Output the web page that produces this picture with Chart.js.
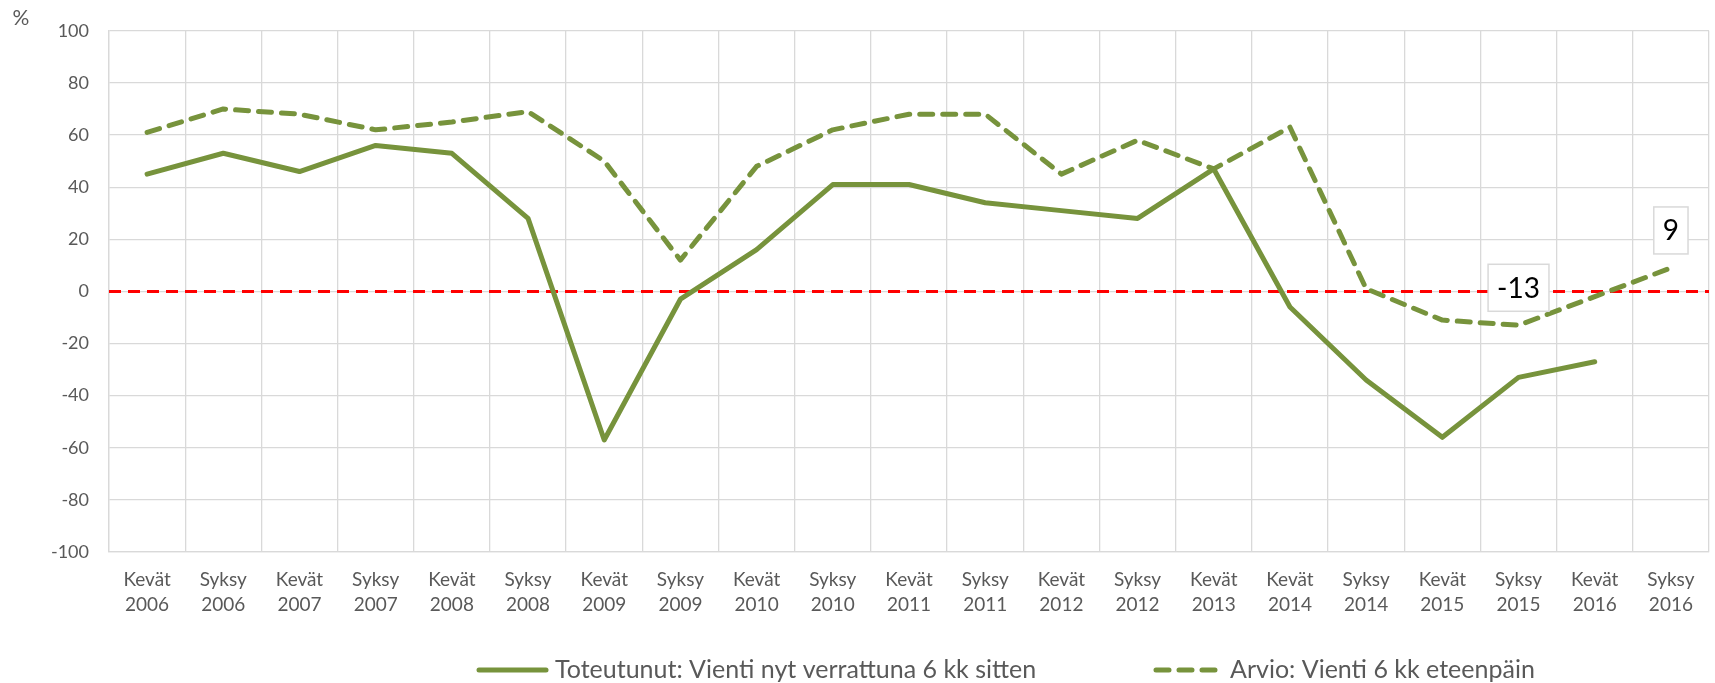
<!DOCTYPE html>
<html>
<head>
<meta charset="utf-8">
<script src="https://cdn.jsdelivr.net/npm/chart.js@4"></script>
<style>
  html, body { margin: 0; padding: 0; background: #ffffff; }
  #wrap { width: 1715px; height: 683px; position: relative; }
</style>
</head>
<body>
<div id="wrap"><canvas id="c" width="1715" height="683"></canvas></div>
<script>
// ---- data ----
const seasons = ['Kevät','Syksy','Kevät','Syksy','Kevät','Syksy','Kevät','Syksy','Kevät','Syksy','Kevät','Syksy','Kevät','Syksy','Kevät','Kevät','Syksy','Kevät','Syksy','Kevät','Syksy'];
const years   = ['2006','2006','2007','2007','2008','2008','2009','2009','2010','2010','2011','2011','2012','2012','2013','2014','2014','2015','2015','2016','2016'];
const actualValues   = [45, 53, 46, 56, 53, 28, -57, -3, 16, 41, 41, 34, 31, 28, 47, -6, -34, -56, -33, -27, null];
const forecastValues = [61, 70, 68, 62, 65, 69, 50, 12, 48, 62, 68, 68, 45, 58, 47, 63, 1, -11, -13, -2, 9];
const seriesNames = ['Toteutunut: Vienti nyt verrattuna 6 kk sitten', 'Arvio: Vienti 6 kk eteenpäin'];
const labelledForecastIdx = [18, 20];
const referenceValue = 0;
const yTicks = { min: -100, max: 100, step: 20 };
const yUnit = '%';

const labels = seasons.map((s, i) => [s, years[i]]);
const GREEN = '#77933C';
const FONT = 'Lato';

const extras = {
  id: 'extras',
  beforeDatasetsDraw(chart) {
    const { ctx, chartArea, scales } = chart;
    const y = scales.y.getPixelForValue(referenceValue);
    ctx.save();
    ctx.strokeStyle = '#FF0000';
    ctx.lineWidth = 3;
    ctx.setLineDash([12, 7]);
    ctx.beginPath();
    ctx.moveTo(chartArea.left, y);
    ctx.lineTo(chartArea.right, y);
    ctx.stroke();
    ctx.restore();
  },
  afterDatasetsDraw(chart) {
    const { ctx, scales } = chart;
    ctx.save();
    ctx.font = '28px ' + FONT;
    ctx.textAlign = 'center';
    ctx.textBaseline = 'middle';
    labelledForecastIdx.forEach(i => {
      const v = forecastValues[i];
      const px = scales.x.getPixelForValue(i);
      const py = scales.y.getPixelForValue(v);
      const txt = String(v);
      const w = ctx.measureText(txt).width + 18;
      const h = 47;
      const bottom = py - 14;
      ctx.fillStyle = '#ffffff';
      ctx.fillRect(px - w / 2, bottom - h, w, h);
      ctx.strokeStyle = '#d9d9d9';
      ctx.lineWidth = 1.5;
      ctx.strokeRect(px - w / 2, bottom - h, w, h);
      ctx.fillStyle = '#000000';
      ctx.fillText(txt, px, bottom - h / 2 + 1);
    });
    ctx.restore();
  },
  afterDraw(chart) {
    const { ctx } = chart;
    ctx.save();
    // unit label
    ctx.font = '21px ' + FONT;
    ctx.fillStyle = '#595959';
    ctx.textAlign = 'center';
    ctx.textBaseline = 'middle';
    ctx.fillText(yUnit, 21, 18);
    // legend
    const ly = 670;
    ctx.strokeStyle = GREEN;
    ctx.lineWidth = 5;
    ctx.lineCap = 'round';
    ctx.beginPath();
    ctx.moveTo(479, ly); ctx.lineTo(546, ly);
    ctx.stroke();
    ctx.setLineDash([13, 10]);
    ctx.beginPath();
    ctx.moveTo(1156, ly); ctx.lineTo(1216, ly);
    ctx.stroke();
    ctx.setLineDash([]);
    ctx.font = '25px ' + FONT;
    ctx.textAlign = 'left';
    ctx.fillStyle = '#595959';
    ctx.fillText(seriesNames[0], 555, ly);
    ctx.fillText(seriesNames[1], 1230, ly);
    ctx.restore();
  }
};

new Chart(document.getElementById('c'), {
  type: 'line',
  data: {
    labels: labels,
    datasets: [
      {
        label: seriesNames[0],
        data: actualValues,
        borderColor: GREEN,
        backgroundColor: GREEN,
        borderWidth: 5,
        pointRadius: 0,
        tension: 0,
        borderJoinStyle: 'round',
        borderCapStyle: 'round',
        spanGaps: false
      },
      {
        label: seriesNames[1],
        data: forecastValues,
        borderColor: GREEN,
        backgroundColor: GREEN,
        borderWidth: 5,
        borderDash: [13, 10],
        borderCapStyle: 'round',
        borderJoinStyle: 'round',
        pointRadius: 0,
        tension: 0
      }
    ]
  },
  options: {
    responsive: false,
    animation: false,
    devicePixelRatio: 1,
    layout: { padding: { top: 17, right: 6, left: 0, bottom: 0 } },
    plugins: {
      legend: { display: false },
      tooltip: { enabled: false }
    },
    scales: {
      x: {
        offset: true,
        grid: { offset: true, color: '#d9d9d9', lineWidth: 1.3, drawTicks: false },
        border: { color: '#d9d9d9', width: 1.3 },
        ticks: {
          color: '#595959',
          font: { family: FONT, size: 19, lineHeight: 1.3 },
          padding: 16,
          maxRotation: 0,
          autoSkip: false
        },
        afterFit(scale) { scale.height = 131; }
      },
      y: {
        min: yTicks.min,
        max: yTicks.max,
        grid: { color: '#d9d9d9', lineWidth: 1.3, drawTicks: false },
        border: { color: '#d9d9d9', width: 1.3 },
        ticks: {
          stepSize: yTicks.step,
          color: '#595959',
          font: { family: FONT, size: 18 },
          padding: 20
        },
        afterFit(scale) { scale.width = 109; }
      }
    }
  },
  plugins: [extras]
});
</script>
</body>
</html>
